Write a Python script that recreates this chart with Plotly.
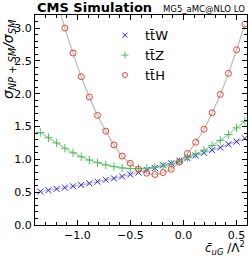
import plotly.graph_objects as go

x_vals = [-1.350, -1.273, -1.196, -1.118, -1.041, -0.964, -0.887, -0.810, -0.732,
          -0.655, -0.578, -0.501, -0.424, -0.346, -0.269, -0.192, -0.115, -0.038,
          0.039, 0.116, 0.194, 0.271, 0.348, 0.425, 0.502, 0.580]

ttW = [0.51, 0.53, 0.55, 0.57, 0.59, 0.61, 0.635, 0.66, 0.69, 0.71, 0.74, 0.77, 0.80,
       0.84, 0.87, 0.91, 0.94, 0.98, 1.02, 1.06, 1.10, 1.14, 1.18, 1.23, 1.27, 1.32]

ttZ = [1.41, 1.33, 1.25, 1.17, 1.10, 1.04, 0.99, 0.95, 0.915, 0.89, 0.87, 0.86, 0.86,
       0.865, 0.88, 0.90, 0.93, 0.97, 1.03, 1.08, 1.14, 1.21, 1.29, 1.38, 1.48, 1.58]

ttH = [4.38, 3.89, 3.43, 3.00, 2.62, 2.26, 1.95, 1.67, 1.43, 1.22, 1.05, 0.94, 0.85,
       0.79, 0.77, 0.80, 0.85, 0.96, 1.09, 1.26, 1.46, 1.71, 1.99, 2.31, 2.67, 3.06]

series = [
    ("tt\u0304W", ttW, "x-thin", "#2020ff"),
    ("tt\u0304Z", ttZ, "cross-thin", "#40c850"),
    ("tt\u0304H", ttH, "circle-open", "#f04030"),
]

fig = go.Figure()
for name, ys, sym, col in series:
    fig.add_trace(go.Scatter(x=x_vals, y=ys, mode="lines", showlegend=False,
                             line=dict(color="#bbbbbb", width=1.2, shape="spline"),
                             hoverinfo="skip"))
for name, ys, sym, col in series:
    fig.add_trace(go.Scatter(x=x_vals, y=ys, mode="markers", name=name, showlegend=False,
                             marker=dict(symbol=sym, size=6, color=col,
                                         line=dict(color=col, width=1))))
# legend entries (smaller symbols, like the reference legend)
for name, ys, sym, col in series:
    fig.add_trace(go.Scatter(x=[None], y=[None], mode="markers", name=name,
                             marker=dict(symbol=sym, size=5, color=col,
                                         line=dict(color=col, width=1))))

font = "DejaVu Sans"
axis_common = dict(showline=True, linecolor="black", linewidth=1, automargin=False,
                   mirror="allticks", ticks="inside", ticklen=5, tickcolor="black",
                   showgrid=False, zeroline=False, tickfont=dict(size=11, family=font))
fig.update_layout(
    template="none",
    width=249, height=256,
    margin=dict(l=34.5, r=2, t=15, b=31, autoexpand=False),
    paper_bgcolor="white", plot_bgcolor="white",
    font=dict(family=font, size=11, color="black"),
    legend=dict(x=0.33, y=0.975, xanchor="left", yanchor="top",
                bgcolor="rgba(0,0,0,0)", font=dict(size=13, family=font),
                itemsizing="trace", tracegroupgap=0),
    xaxis=dict(range=[-1.4, 0.6],
               tickvals=[-1.0, -0.5, 0.0, 0.5], ticktext=["\u22121.0", "\u22120.5", "0.0", "0.5"],
               minor=dict(ticks="inside", ticklen=3, dtick=0.1, tickcolor="black", showgrid=False),
               **axis_common),
    yaxis=dict(range=[0, 3.2],
               tickvals=[0.0, 0.5, 1.0, 1.5, 2.0, 2.5, 3.0],
               ticktext=["0.0", "0.5", "1.0", "1.5", "2.0", "2.5", "3.0"],
               minor=dict(ticks="inside", ticklen=3, dtick=0.1, tickcolor="black", showgrid=False),
               **axis_common),
    annotations=[
        dict(text="<b>CMS Simulation</b>", x=0, xref="paper", xanchor="left",
             y=1, yref="paper", yanchor="bottom", yshift=-2, showarrow=False,
             font=dict(size=13, family=font)),
        dict(text="MG5_aMC@NLO LO", x=1, xref="paper", xanchor="right",
             y=1, yref="paper", yanchor="bottom", yshift=-1, showarrow=False,
             font=dict(size=8.5, family=font)),
        dict(text="<i>σ<sub>NP + SM</sub>/σ<sub>SM</sub></i>", x=0, xref="paper", xanchor="right",
             xshift=-15, y=0.99, yref="paper", yanchor="top", textangle=-90, showarrow=False,
             font=dict(size=14, family=font)),
        dict(text="<i>c\u0304<sub>uG</sub></i> /Λ<sup>2</sup>", x=1, xref="paper", xanchor="right",
             y=0, yref="paper", yanchor="top", yshift=-12, showarrow=False,
             font=dict(size=12, family=font)),
    ],
)

fig.write_html("out.html", config={"displayModeBar": False},
               post_script="document.body.style.margin='0';document.body.style.padding='0';")
